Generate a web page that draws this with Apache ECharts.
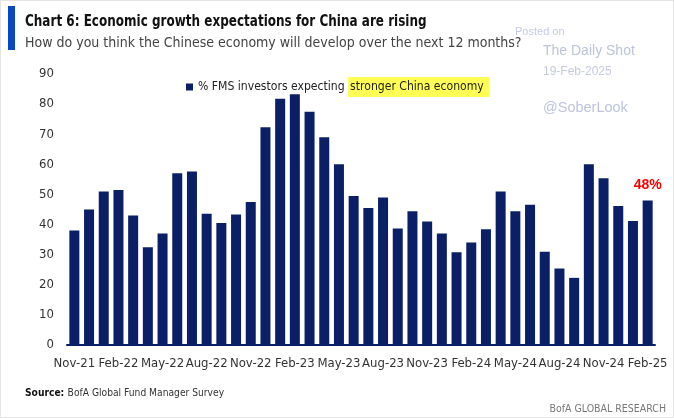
<!DOCTYPE html>
<html><head><meta charset="utf-8">
<script src="https://cdn.jsdelivr.net/npm/echarts@6/dist/echarts.min.js"></script>
<style>html,body{margin:0;padding:0;background:#fff;}#c{width:674px;height:418px;box-sizing:border-box;border:1px solid #e4e4e4;}</style>
</head><body><div id="c"></div>
<script>
var categories = ['Nov-21','Dec-21','Jan-22','Feb-22','Mar-22','Apr-22','May-22','Jun-22','Jul-22','Aug-22','Sep-22','Oct-22','Nov-22','Dec-22','Jan-23','Feb-23','Mar-23','Apr-23','May-23','Jun-23','Jul-23','Aug-23','Sep-23','Oct-23','Nov-23','Dec-23','Jan-24','Feb-24','Mar-24','Apr-24','May-24','Jun-24','Jul-24','Aug-24','Sep-24','Oct-24','Nov-24','Dec-24','Jan-25','Feb-25'];
var strongerChina = [38,45,51,51.5,43,32.5,37,57,57.6,43.6,40.5,43.3,47.5,72.3,81.8,83.3,77.5,69,60,49.5,45.5,49,38.7,44.4,41,37,30.8,34,38.4,51,44.4,46.6,31,25.4,22.3,60,55.4,46.2,41.2,48];
var yTicks = [0,10,20,30,40,50,60,70,80,90];

var font = '"DejaVu Sans Condensed","DejaVu Sans",sans-serif';
var wm = '"Liberation Sans",Arial,sans-serif';
var chart = echarts.init(document.getElementById('c'), null, {renderer:'canvas'});
var data = strongerChina.map(function(v,i){
  if (i === strongerChina.length-1) {
    return {value:v, label:{show:true, position:'top', distance:8, formatter:'48%', color:'#ff0000', fontWeight:'bold', fontSize:14, fontFamily:wm}};
  }
  return v;
});
chart.setOption({
  animation:false,
  textStyle:{fontFamily:font},
  graphic:[
    {type:'rect', left:7, top:5, shape:{width:7, height:44}, style:{fill:'#0a47c2'}},
    {type:'text', left:24, top:14, scaleX:0.89, style:{text:'Chart 6: Economic growth expectations for China are rising', font:'bold 15px '+font, fill:'#111'}},
    {type:'text', left:24, top:35, style:{text:'How do you think the Chinese economy will develop over the next 12 months?', font:'14px '+font, fill:'#444'}},
    {type:'text', left:514, top:25, style:{text:'Posted on', font:'11px '+wm, fill:'#c4cae0'}},
    {type:'text', left:542, top:43, style:{text:'The Daily Shot', font:'14px '+wm, fill:'#bcc3dc'}},
    {type:'text', left:542, top:65, style:{text:'19-Feb-2025', font:'12px '+wm, fill:'#c4cae0'}},
    {type:'text', left:542, top:99, style:{text:'@SoberLook', font:'14.5px '+wm, fill:'#bcc3dc'}},
    {type:'text', left:24, top:386, style:{rich:{a:{font:'bold 10.2px '+font, fill:'#111'}, b:{font:'10.2px '+font, fill:'#333'}}, text:'{a|Source:} {b|BofA Global Fund Manager Survey}'}},
    {type:'text', right:7, top:403, style:{text:'BofA GLOBAL RESEARCH', font:'10.5px '+font, fill:'#777'}}
  ],
  legend:{
    show:true, left:185, top:76, padding:0, itemWidth:7, itemHeight:7, icon:'rect', itemGap:4,
    data:['s'],
    formatter:function(){return '{a|% FMS investors expecting }{b|stronger China economy}';},
    textStyle:{rich:{
      a:{fontSize:12.1, color:'#222', fontFamily:font},
      b:{fontSize:12.1, color:'#222', fontFamily:font, backgroundColor:'#ffff55', padding:[4,6,4,2]}
    }}
  },
  grid:{left:66, right:18, top:73, bottom:72, containLabel:false},
  xAxis:{
    type:'category', data:categories,
    axisTick:{show:false},
    axisLine:{lineStyle:{color:'#0b1f66', width:2}},
    axisLabel:{interval:2, color:'#333', fontSize:13, margin:12, fontFamily:font}
  },
  yAxis:{
    type:'value', min:0, max:90, interval:10,
    splitLine:{show:false}, axisLine:{show:false}, axisTick:{show:false},
    axisLabel:{color:'#333', fontSize:13, margin:13, fontFamily:font}
  },
  series:[{
    name:'s', type:'bar', data:data, barWidth:10,
    itemStyle:{color:'#0b1f66'}
  }]
});
</script></body></html>
